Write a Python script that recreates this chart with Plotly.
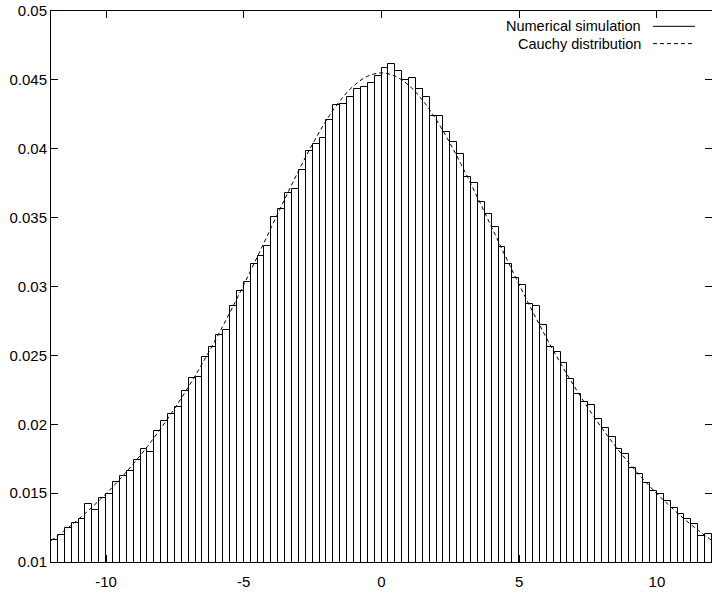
import numpy as np
import plotly.graph_objects as go

# Histogram of the numerical simulation: bins of width 0.25 from -12 to 12
bin_start = -12.0
bin_width = 0.25
sim_density = [
    0.01158, 0.01199, 0.01247, 0.01281, 0.01315, 0.01424, 0.01376, 0.01467,
    0.01492, 0.01579, 0.01623, 0.01659, 0.01744, 0.01817, 0.01799, 0.01950,
    0.02025, 0.02071, 0.02122, 0.02243, 0.02333, 0.02340, 0.02485, 0.02563,
    0.02648, 0.02682, 0.02858, 0.02965, 0.03030, 0.03160, 0.03220, 0.03297,
    0.03505, 0.03561, 0.03677, 0.03711, 0.03849, 0.03987, 0.04031, 0.04079,
    0.04208, 0.04317, 0.04324, 0.04379, 0.04435, 0.04450, 0.04479, 0.04528,
    0.04586, 0.04615, 0.04566, 0.04499, 0.04515, 0.04437, 0.04379, 0.04241,
    0.04237, 0.04121, 0.04050, 0.03961, 0.03794, 0.03752, 0.03616, 0.03525,
    0.03435, 0.03290, 0.03160, 0.03060, 0.03010, 0.02873, 0.02858, 0.02718,
    0.02560, 0.02522, 0.02444, 0.02326, 0.02217, 0.02158, 0.02141, 0.02035,
    0.01974, 0.01904, 0.01817, 0.01781, 0.01683, 0.01642, 0.01574, 0.01514,
    0.01492, 0.01443, 0.01395, 0.01352, 0.01315, 0.01274, 0.01187, 0.01201,
]
bin_centers = bin_start + bin_width * (np.arange(len(sim_density)) + 0.5)

# Cauchy distribution curve
cauchy_x = [-12, -11.5, -11, -10.5, -10, -9.5, -9, -8.5, -8, -7.5, -7, -6.5,
            -6, -5.5, -5, -4.5, -4, -3.5, -3, -2.5, -2, -1.5, -1, -0.5, 0,
            0.5, 1, 1.5, 2, 2.5, 3, 3.5, 4, 4.5, 5, 5.5, 6, 6.5, 7, 7.5, 8,
            8.5, 9, 9.5, 10, 10.5, 11, 11.5, 12]
cauchy_y = [0.01155, 0.01230, 0.01311, 0.01400, 0.01496, 0.01601, 0.01715,
            0.01839, 0.01973, 0.02118, 0.02275, 0.02443, 0.02623, 0.02813,
            0.03013, 0.03219, 0.03430, 0.03640, 0.03844, 0.04035, 0.04207,
            0.04350, 0.04459, 0.04527, 0.04550, 0.04527, 0.04459, 0.04350,
            0.04207, 0.04035, 0.03844, 0.03640, 0.03430, 0.03219, 0.03013,
            0.02813, 0.02623, 0.02443, 0.02275, 0.02118, 0.01973, 0.01839,
            0.01715, 0.01601, 0.01496, 0.01400, 0.01311, 0.01230, 0.01155]

x_tickvals = [-10, -5, 0, 5, 10]
x_ticktext = ["-10", "-5", "0", "5", "10"]
y_tickvals = [0.01, 0.015, 0.02, 0.025, 0.03, 0.035, 0.04, 0.045, 0.05]
y_ticktext = ["0.01", "0.015", "0.02", "0.025", "0.03", "0.035", "0.04", "0.045", "0.05"]

legend_labels = ["Numerical simulation", "Cauchy distribution"]

FONT = "Liberation Sans, Arial, Helvetica, sans-serif"
DASH = "4px,3px"

fig = go.Figure()
fig.add_trace(go.Bar(
    x=bin_centers, y=sim_density, width=bin_width,
    marker=dict(color="white", line=dict(color="black", width=1)),
    showlegend=False, name=legend_labels[0],
))
fig.add_trace(go.Scatter(
    x=cauchy_x, y=cauchy_y, mode="lines",
    line=dict(color="black", width=1, dash=DASH, shape="spline"),
    showlegend=False, name=legend_labels[1],
))

axis_common = dict(
    showgrid=False, zeroline=False, showline=True, linecolor="black",
    linewidth=1, mirror="ticks", ticks="inside", ticklen=7, tickwidth=1,
    tickcolor="black", tickfont=dict(family=FONT, size=15, color="black"),
)
fig.update_xaxes(range=[-12, 12], tickmode="array", tickvals=x_tickvals,
                 ticktext=x_ticktext, ticklabelstandoff=6, **axis_common)
fig.update_yaxes(range=[0.01, 0.05], tickmode="array", tickvals=y_tickvals,
                 ticktext=y_ticktext, **axis_common)

# gnuplot-style key in the top-right corner
key_rows = [0.9722, 0.9408]
key_dash = ["solid", DASH]
for label, yy, dsh in zip(legend_labels, key_rows, key_dash):
    fig.add_annotation(xref="paper", yref="paper", x=0.8956, y=yy, text=label,
                       showarrow=False, xanchor="right", yanchor="middle",
                       font=dict(family=FONT, size=14.5, color="black"))
    fig.add_shape(type="line", xref="paper", yref="paper", x0=0.9107, x1=0.9743,
                  y0=yy, y1=yy, line=dict(color="black", width=1, dash=dsh))

fig.update_layout(
    width=712, height=593, bargap=0,
    margin=dict(l=51, r=0, t=11, b=31),
    plot_bgcolor="white", paper_bgcolor="white",
    font=dict(family=FONT, color="black"),
)

fig.write_html("out.html")
